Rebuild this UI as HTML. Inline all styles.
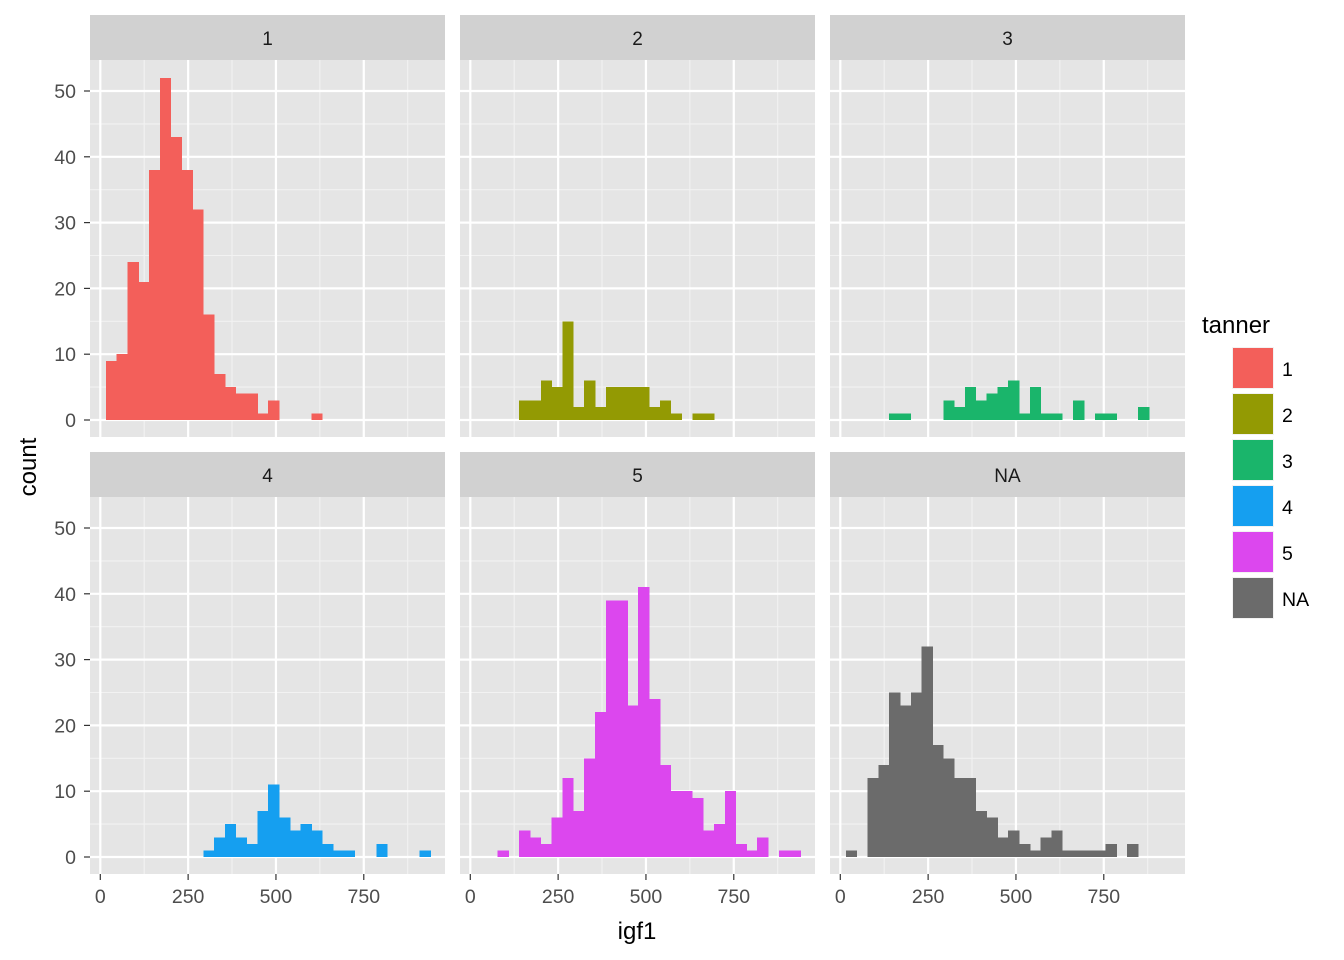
<!DOCTYPE html>
<html><head><meta charset="utf-8"><style>
body{margin:0;background:#fff;}
svg{display:block;font-family:"Liberation Sans",Arial,sans-serif;}
</style></head><body>
<svg id="chart" width="1344" height="960" xmlns="http://www.w3.org/2000/svg"></svg>
<script>
const panelLabels = ["1","2","3","4","5","NA"];
const panelColors = ["#F35F5A","#939A03","#1AB56B","#159FF0","#DC47EE","#6B6B6B"];
const binStart = 16;
const binWidth = 30.8;
const counts1 = [9,10,24,21,38,52,43,38,32,16,7,5,4,4,1,3,0,0,0,1,0,0,0,0,0,0,0,0,0,0];
const counts2 = [0,0,0,0,3,3,6,5,15,2,6,2,5,5,5,5,2,3,1,0,1,1,0,0,0,0,0,0,0,0];
const counts3 = [0,0,0,0,1,1,0,0,0,3,2,5,3,4,5,6,1,5,1,1,0,3,0,1,1,0,0,2,0,0];
const counts4 = [0,0,0,0,0,0,0,0,0,1,3,5,3,2,7,11,6,4,5,4,2,1,1,0,0,2,0,0,0,1];
const counts5 = [0,0,1,0,4,3,2,6,12,7,15,22,39,39,23,41,24,14,10,10,9,4,5,10,2,1,3,0,1,1];
const countsNA = [1,0,12,14,25,23,25,32,17,15,12,12,7,6,3,4,2,1,3,4,1,1,1,1,2,0,2,0,0,0];
const allCounts = [counts1,counts2,counts3,counts4,counts5,countsNA];
const xTicks = [0,250,500,750];
const xMinor = [125,375,625,875];
const yTicks = [0,10,20,30,40,50];
const yMinor = [5,15,25,35,45];

const svg = document.getElementById('chart');
const NS = "http://www.w3.org/2000/svg";
function mk(tag, attrs, parent){const e=document.createElementNS(NS,tag);for(const k in attrs)e.setAttribute(k,attrs[k]);(parent||svg).appendChild(e);return e;}

const colX = [90,460,830], pw = 355;
const rowY = [60,497], ph = 377;
const xs = (ox,v)=>ox+10.3+v*0.3513;
const ys = (oy,v)=>oy+360-v*6.58;

for(let p=0;p<6;p++){
  const col=p%3,row=Math.floor(p/3);
  const ox=colX[col], oy=rowY[row];
  const g=mk('g',{});
  
  
  const strip=mk('rect',{x:ox,y:oy-45,width:pw,height:45,fill:'#D1D1D1'},g);
  
  
  const st=mk('text',{x:ox+pw/2,y:oy-15,'text-anchor':'middle','font-size':'19',fill:'#1a1a1a'},g);
  st.textContent=panelLabels[p];
  
  
  const bg=mk('rect',{x:ox,y:oy,width:pw,height:ph,fill:'#E5E5E5'},g);
  
  
  yMinor.forEach(v=>{const y=ys(oy,v);mk('line',{x1:ox,x2:ox+pw,y1:y,y2:y,stroke:'#F2F2F2','stroke-width':1.1},g);});
  xMinor.forEach(v=>{const x=xs(ox,v);mk('line',{x1:x,x2:x,y1:oy,y2:oy+ph,stroke:'#F2F2F2','stroke-width':1.1},g);});
  yTicks.forEach(v=>{const y=ys(oy,v);mk('line',{x1:ox,x2:ox+pw,y1:y,y2:y,stroke:'#fff','stroke-width':2.2},g);});
  xTicks.forEach(v=>{const x=xs(ox,v);mk('line',{x1:x,x2:x,y1:oy,y2:oy+ph,stroke:'#fff','stroke-width':2.2},g);});
  const counts=allCounts[p];
  counts.forEach((c,i)=>{
    if(c<=0)return;
    const x0=xs(ox,binStart+i*binWidth), x1=xs(ox,binStart+(i+1)*binWidth);
    const r=mk('rect',{x:x0,y:ys(oy,c),width:x1-x0+0.4,height:ys(oy,0)-ys(oy,c),fill:panelColors[p],'shape-rendering':'crispEdges'},g);
    
    
  });
  if(col===0){
    yTicks.forEach(v=>{const y=ys(oy,v);
      mk('line',{x1:ox-6,x2:ox,y1:y,y2:y,stroke:'#333','stroke-width':1.2},g);
      const t=mk('text',{x:ox-14,y:y+7,'text-anchor':'end','font-size':'19.5',fill:'#4d4d4d'},g);t.textContent=v;
      
      });
  }
  if(row===1){
    xTicks.forEach(v=>{const x=xs(ox,v);
      mk('line',{x1:x,x2:x,y1:oy+ph,y2:oy+ph+6,stroke:'#333','stroke-width':1.2},g);
      const t=mk('text',{x:x,y:903,'text-anchor':'middle','font-size':'19.5',fill:'#4d4d4d'},g);t.textContent=v;
      
      });
  }
}
const yt=mk('text',{x:0,y:0,transform:'translate(36,467) rotate(-90)','text-anchor':'middle','font-size':'24',fill:'#000'});
yt.textContent='count';


const xt=mk('text',{x:637,y:939,'text-anchor':'middle','font-size':'24',fill:'#000'});
xt.textContent='igf1';


const lg=mk('g',{});


const lt=mk('text',{x:1202,y:333,'font-size':'24',fill:'#000'},lg);
lt.textContent='tanner';


panelLabels.forEach((l,i)=>{
  const y=347+i*46;
  mk('rect',{x:1232,y:y,width:42,height:42,fill:'#F2F2F2'},lg);
  const k=mk('rect',{x:1233,y:y+1,width:40,height:40,fill:panelColors[i]},lg);
  
  
  const t=mk('text',{x:1282,y:y+29,'font-size':'19.5',fill:'#000'},lg);
  t.textContent=l;
  
  
});
</script>
</body></html>
